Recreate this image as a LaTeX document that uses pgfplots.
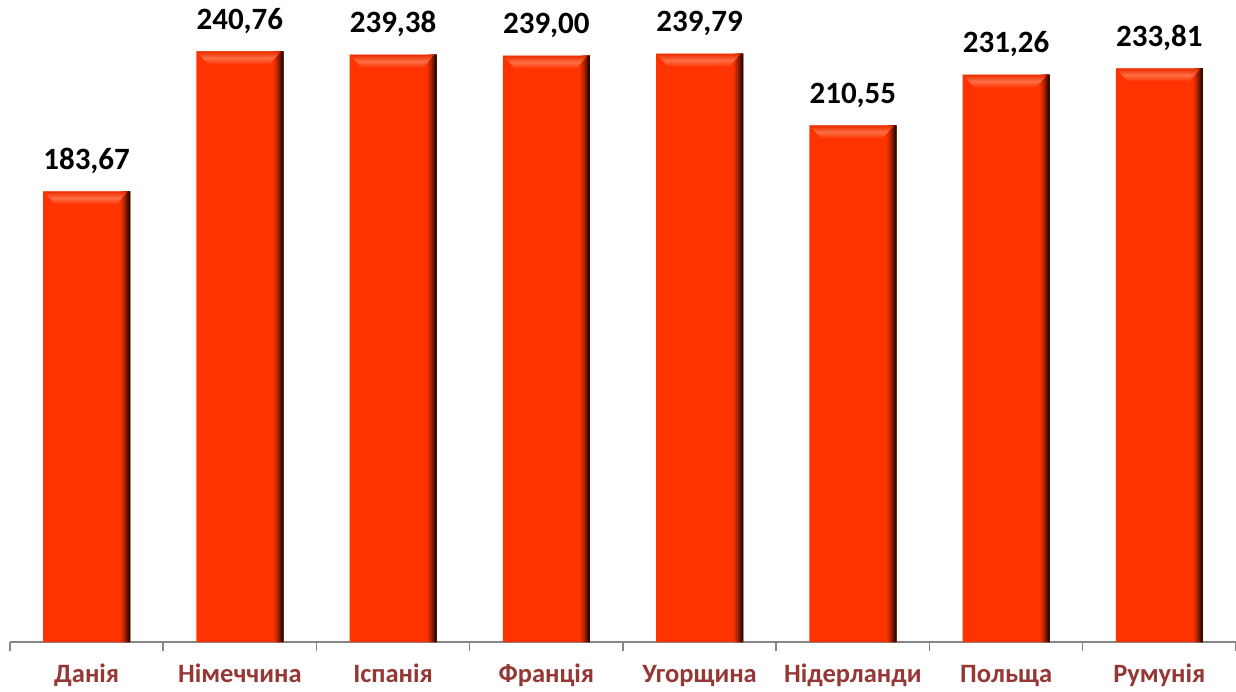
\documentclass[border=0pt]{standalone}
\usepackage{fontspec}
\setmainfont{Carlito}
\usepackage{pgfplots}
\pgfplotsset{compat=1.18}
\definecolor{barR}{HTML}{FF3300}
\definecolor{barHi}{HTML}{FF6E45}
\definecolor{catR}{HTML}{953735}
\definecolor{axGray}{HTML}{868686}
\pgfplotstableread{
x y lab
0 183.67 183,67
1 240.76 240,76
2 239.38 239,38
3 239.00 239,00
4 239.79 239,79
5 210.55 210,55
6 231.26 231,26
7 233.81 233,81
}\datatable
\newcommand{\bevel}{\tikz[x=1pt,y=1pt]{\shade[top color=barR!92!black, bottom color=barR, middle color=barHi] (0,0) -- (84,0) -- (73,-13) -- (12,-13) -- cycle;}}
\begin{document}
\begin{tikzpicture}
\path[use as bounding box] (0,0) rectangle (1236pt,691pt);
\begin{axis}[
  at={(10pt,49pt)}, anchor=south west,
  scale only axis, width=1226pt, height=637.9pt,
  xmin=-0.5, xmax=7.5, ymin=0, ymax=260,
  clip=false,
  axis x line=bottom, axis y line=none,
  axis line style={-, draw=axGray, line width=1.5pt},
  xtick={0,...,7},
  xticklabels={Данія, Німеччина, Іспанія, Франція, Угорщина, Нідерланди, Польща, Румунія},
  major tick length=0pt,
  minor xtick={-0.5,0.5,...,7.5},
  minor tick length=9pt,
  tick align=outside,
  every minor tick/.style={draw=axGray, line width=1.5pt},
  xticklabel style={font=\bfseries\fontsize{26.5}{26.5}\selectfont, text=catR, anchor=base, yshift=-40pt, inner sep=0pt},
  ytick=\empty,
  ybar, bar shift=0pt,
]
\addplot[bar width=87pt, draw=none, fill=barR] table[x=x,y=y] {\datatable};
\addplot[bar width=9pt, bar shift=39pt, draw=none, fill=barR!88!black] table[x=x,y=y] {\datatable};
\addplot[bar width=7pt, bar shift=40pt, draw=none, fill=barR!72!black] table[x=x,y=y] {\datatable};
\addplot[bar width=5pt, bar shift=41pt, draw=none, fill=barR!52!black] table[x=x,y=y] {\datatable};
\addplot[bar width=3pt, bar shift=42pt, draw=none, fill=barR!32!black] table[x=x,y=y] {\datatable};
\addplot[bar width=1.5pt, bar shift=42.75pt, draw=none, fill=barR!18!black] table[x=x,y=y] {\datatable};
\addplot[bar width=87pt, draw=none, fill=none,
  nodes near coords={\bevel},
  nodes near coords style={anchor=north west, inner sep=0pt, xshift=-43.5pt}]
  table[x=x,y=y] {\datatable};
\addplot[bar width=87pt, draw=none, fill=none,
  point meta=explicit symbolic,
  nodes near coords={\pgfplotspointmeta},
  nodes near coords style={font=\bfseries\fontsize{31}{31}\selectfont, text=black, anchor=base, yshift=22pt, inner sep=0pt}]
  table[x=x,y=y,meta=lab] {\datatable};
\end{axis}
\end{tikzpicture}
\end{document}
